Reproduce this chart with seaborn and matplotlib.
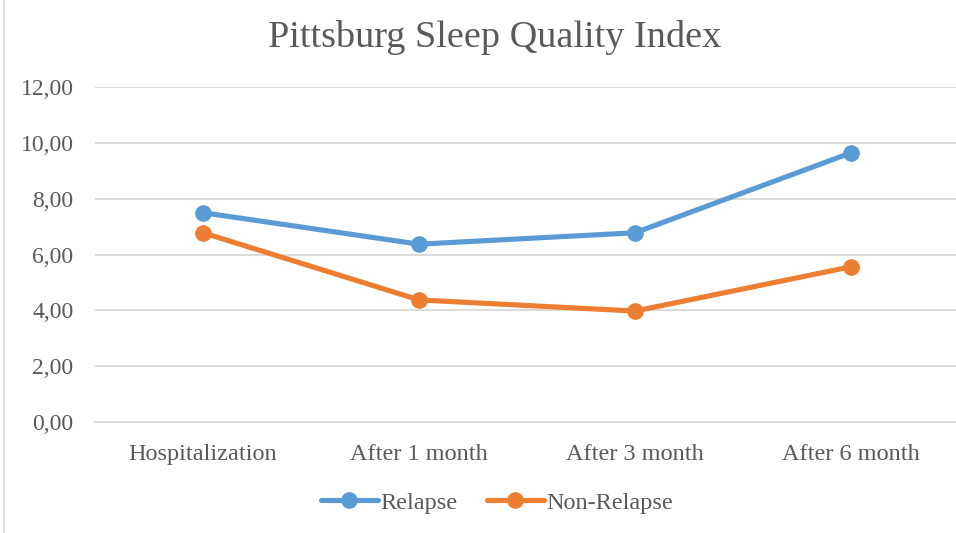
import pandas as pd
import numpy as np
import seaborn as sns
import matplotlib.pyplot as plt
from matplotlib.lines import Line2D
from matplotlib.ticker import FuncFormatter

# values
periods = ['Hospitalization', 'After 1 month', 'After 3 month', 'After 6 month']
relapse = [7.50, 6.37, 6.78, 9.65]
non_relapse = [6.78, 4.37, 3.97, 5.56]
series_names = ['Relapse', 'Non-Relapse']
colors = ['#5B9BD5', '#ED7D31']
y_ticks = [0, 2, 4, 6, 8, 10, 12]

text_gray = '#595959'
grid_gray = '#D9D9D9'


def build_frame():
    frame = pd.DataFrame({
        'pos': list(range(len(periods))) * 2,
        'value': relapse + non_relapse,
        'group': [series_names[0]] * len(periods) + [series_names[1]] * len(periods),
    })
    return frame


def main():
    sns.set_style('white')
    plt.rcParams['font.family'] = ['Liberation Serif', 'DejaVu Serif']

    data = build_frame()

    fig = plt.figure(figsize=(9.56, 5.33), dpi=100)
    ax = fig.add_axes([95 / 956, 111.3 / 533, (956 - 95) / 956, 334.4 / 533])

    sns.lineplot(data=data, x='pos', y='value', hue='group', palette=colors,
                 marker='o', markersize=12, markeredgewidth=0, linewidth=3.7,
                 ax=ax, legend=False, clip_on=False, zorder=3)

    ax.set_xlim(-0.5, 3.5 - 3 / 216)
    ax.set_ylim(0, 12)
    ax.set_yticks(y_ticks)
    ax.yaxis.set_major_formatter(FuncFormatter(lambda v, p: f'{v:.2f}'.replace('.', ',')))
    ax.set_xticks(range(len(periods)))
    ax.set_xticklabels(periods)
    ax.set_xlabel('')
    ax.set_ylabel('')

    ax.grid(axis='y', color=grid_gray, linewidth=1.3)
    ax.set_axisbelow(True)
    for side in ['top', 'right', 'left']:
        ax.spines[side].set_visible(False)
    ax.spines['bottom'].set_color(grid_gray)
    ax.spines['bottom'].set_linewidth(1.3)

    ax.tick_params(axis='y', labelsize=17, colors=text_gray, length=0, pad=15.5)
    ax.tick_params(axis='x', labelsize=17.5, colors=text_gray, length=0, pad=16)

    fig.text(495 / 956, 1 - 47 / 533, 'Pittsburg Sleep Quality Index',
             ha='center', va='baseline', fontsize=27.5, color=text_gray)

    handles = [Line2D([], [], color=c, linewidth=3.7, marker='o', markersize=12,
                      markeredgewidth=0) for c in colors]
    fig.legend(handles, series_names, loc='center', bbox_to_anchor=(497 / 956, 1 - 503 / 533),
               ncol=2, frameon=False, fontsize=17.5, labelcolor=text_gray,
               handlelength=2.35, handletextpad=0.1, columnspacing=1.2)

    # thin chart-area border on the left edge
    fig.add_artist(Line2D([0.004, 0.004], [0, 1], color=grid_gray, linewidth=1.2,
                          transform=fig.transFigure))

    fig.savefig('out.png', dpi=100, facecolor='white')


if __name__ == '__main__':
    main()
